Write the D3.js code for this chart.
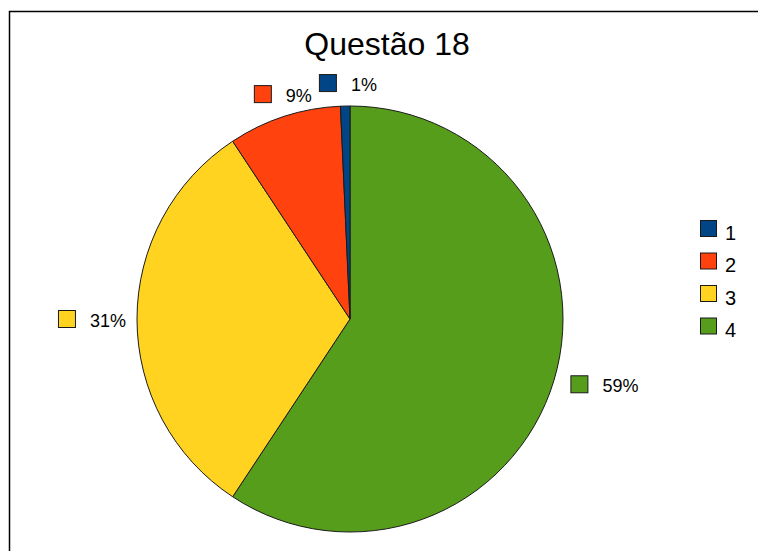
<!DOCTYPE html>
<html><head><meta charset="utf-8">
<script src="https://cdn.jsdelivr.net/npm/d3@7"></script>
<style>html,body{margin:0;padding:0;background:#fff;}svg{display:block;}</style>
</head><body>
<script>
const title = "Questão 18";
const categories = ["1", "2", "3", "4"];
const values = [1, 12, 44, 83];
const colors = ["#004586", "#ff420e", "#ffd320", "#579d1c"];

const W = 758, H = 551;
const svg = d3.select("body").append("svg").attr("width", W).attr("height", H);
const font = "'Liberation Sans', Arial, sans-serif";

// frame
svg.append("rect").attr("x", 9.5).attr("y", 11.5).attr("width", W + 20).attr("height", H + 20)
  .attr("fill", "none").attr("stroke", "#000").attr("stroke-width", 1.5);

svg.append("text").attr("x", 387).attr("y", 55).attr("text-anchor", "middle")
  .attr("font-family", font).attr("font-size", 32).attr("fill", "#000").text(title);

const cx = 350, cy = 319, r = 213;
const total = d3.sum(values);
// drawn clockwise from top in reverse series order
const order = d3.range(values.length).reverse();
const pie = d3.pie().sort(null).value(i => values[i]);
const arcs = pie(order);
const arc = d3.arc().innerRadius(0).outerRadius(r);
const g = svg.append("g").attr("transform", `translate(${cx},${cy})`);
g.selectAll("path").data(arcs).join("path")
  .attr("d", arc).attr("fill", d => colors[d.data])
  .attr("stroke", "#1a1a1a").attr("stroke-width", 1).attr("stroke-linejoin", "round");

// labels
const fs = 18, sq = 18, gap = 14, R = 227, lx = 3;
arcs.forEach(d => {
  const i = d.data;
  const txt = Math.round(values[i] / total * 100) + "%";
  const a = (d.startAngle + d.endAngle) / 2;
  const dx = Math.sin(a), dy = -Math.cos(a);
  const px = cx + lx + R * dx, py = cy + R * dy;
  const tmp = svg.append("text").attr("font-family", font).attr("font-size", fs).text(txt);
  const tw = tmp.node().getComputedTextLength(); tmp.remove();
  const w = sq + gap + tw, h = sq;
  let x0, y0;
  if (Math.abs(dx) < 0.5) x0 = px - w / 2; else x0 = dx > 0 ? px : px - w;
  if (Math.abs(dy) < 0.5) y0 = py - h / 2; else y0 = dy > 0 ? py : py - h;
  svg.append("rect").attr("x", x0 + 0.5).attr("y", y0 + 0.5).attr("width", sq - 1).attr("height", sq - 1)
    .attr("fill", colors[i]).attr("stroke", "#1a1a1a").attr("stroke-width", 1);
  svg.append("text").attr("x", x0 + sq + gap).attr("y", y0 + sq - 1)
    .attr("font-family", font).attr("font-size", fs).attr("fill", "#000").text(txt);
});

// legend
const leg = svg.append("g");
categories.forEach((c, i) => {
  const y = 220.5 + i * 32.5;
  leg.append("rect").attr("x", 700.5).attr("y", y).attr("width", 16).attr("height", 16)
    .attr("fill", colors[i]).attr("stroke", "#1a1a1a").attr("stroke-width", 1);
  leg.append("text").attr("x", 725).attr("y", y + 19).attr("font-family", font)
    .attr("font-size", 20).attr("fill", "#000").text(c);
});
</script>
</body></html>
